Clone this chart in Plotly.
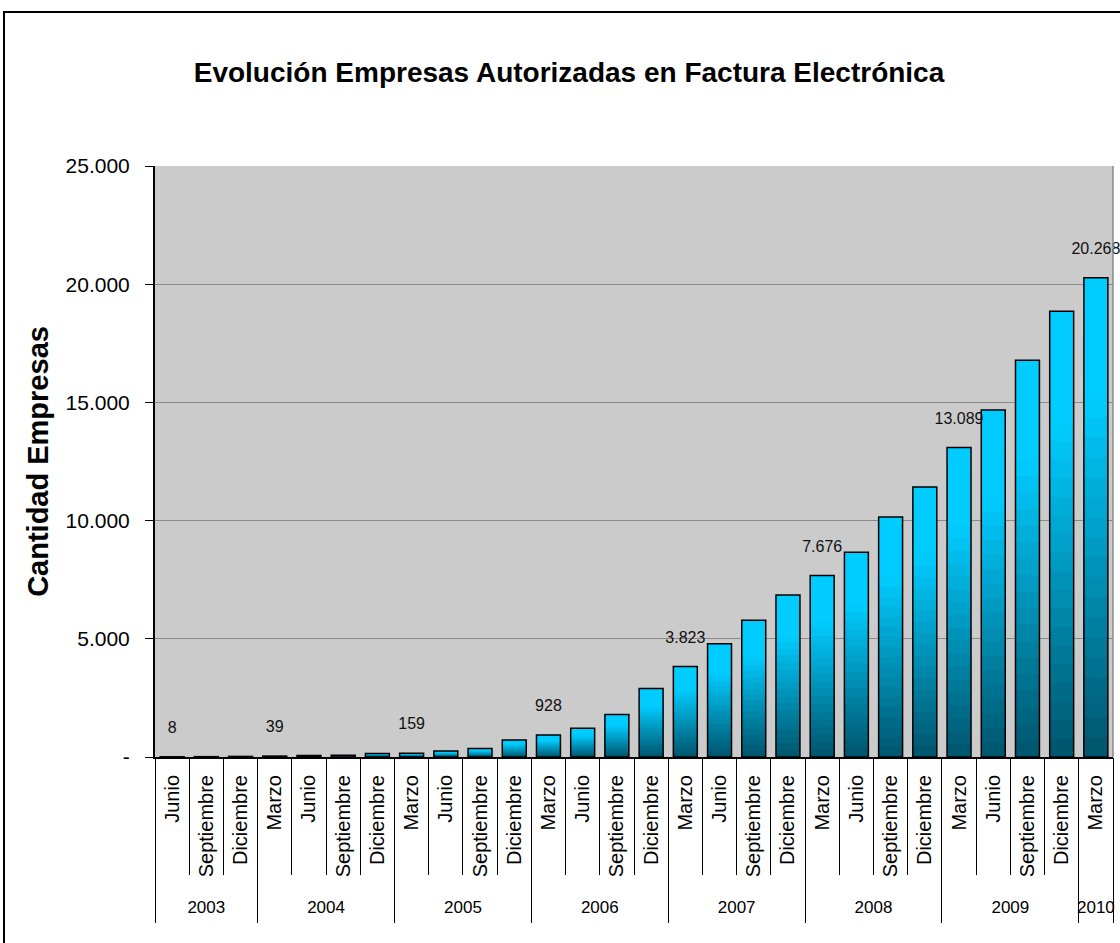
import plotly.graph_objects as go

# ---------------- data ----------------
anios = (["2003"] * 3 + ["2004"] * 4 + ["2005"] * 4 + ["2006"] * 4 +
         ["2007"] * 4 + ["2008"] * 4 + ["2009"] * 4 + ["2010"] * 1)
meses = (["Junio", "Septiembre", "Diciembre"] +
         ["Marzo", "Junio", "Septiembre", "Diciembre"] * 6 +
         ["Marzo"])
empresas = [8, 15, 25,
            39, 65, 75, 150,
            159, 250, 360, 720,
            928, 1220, 1800, 2900,
            3823, 4790, 5780, 6850,
            7676, 8660, 10150, 11420,
            13089, 14680, 16780, 18860,
            20268]
mostrar_etiqueta = [1, 0, 0,
                    1, 0, 0, 0,
                    1, 0, 0, 0,
                    1, 0, 0, 0,
                    1, 0, 0, 0,
                    1, 0, 0, 0,
                    1, 0, 0, 0,
                    1]
y_ticks = [0, 5000, 10000, 15000, 20000, 25000]
y_ticktext = ["-", "5.000", "10.000", "15.000", "20.000", "25.000"]

titulo = "Evolución Empresas Autorizadas en Factura Electrónica"
titulo_y = "Cantidad Empresas"


def fmt(v):
    return f"{v:,}".replace(",", ".")


# category positions (one slot per quarter) and year groups
pos = list(range(len(empresas)))
years_unique = []
for a in anios:
    if a not in years_unique:
        years_unique.append(a)
year_centers = []
year_bounds = []
for a in years_unique:
    idx = [p for p, aa in zip(pos, anios) if aa == a]
    year_centers.append(sum(idx) / len(idx))
    year_bounds.append(idx[0] - 0.5)
year_bounds.append(pos[-1] + 0.5)
month_bounds = [p - 0.5 for p in pos] + [pos[-1] + 0.5]

# ---------------- style ----------------
SANS = "Liberation Sans, Arial, sans-serif"
TOP = (0, 204, 255)
BOTTOM = (0, 84, 108)
N_LAYERS = 24

fig = go.Figure()


def color_at(p):
    t = min(1.0, max(0.0, p / 0.75))
    r = [round(BOTTOM[i] + (TOP[i] - BOTTOM[i]) * t) for i in range(3)]
    return f"rgb({r[0]},{r[1]},{r[2]})"


# gradient: overlay of scaled copies of the same values
for k in range(N_LAYERS):
    f_hi = 1 - k / N_LAYERS
    f_lo = 1 - (k + 1) / N_LAYERS
    fig.add_trace(go.Bar(
        x=pos, y=[v * f_hi for v in empresas],
        marker=dict(color=color_at((f_hi + f_lo) / 2), line=dict(width=0)),
        hoverinfo="skip", showlegend=False,
    ))

# outline
fig.add_trace(go.Bar(
    x=pos, y=empresas,
    marker=dict(color="rgba(0,0,0,0)", line=dict(color="black", width=1.5)),
    showlegend=False,
))

# data labels
fig.add_trace(go.Scatter(
    x=pos, y=empresas, mode="markers+text",
    text=[fmt(v) if m else "" for v, m in zip(empresas, mostrar_etiqueta)],
    textposition="top center",
    textfont=dict(family=SANS, size=16, color="#111111"),
    marker=dict(size=30, color="rgba(0,0,0,0)"),
    cliponaxis=False, showlegend=False, hoverinfo="skip",
))

# invisible trace bound to the year axis
fig.add_trace(go.Scatter(
    x=pos, y=empresas, xaxis="x2", mode="markers",
    marker=dict(size=1, color="rgba(0,0,0,0)"),
    showlegend=False, hoverinfo="skip",
))

L, R, T, B = 155, 7, 166, 186
W, H = 1120, 943
pw, ph = W - L - R, H - T - B
xr = [pos[0] - 0.5, pos[-1] + 0.5]

fig.update_layout(
    width=W, height=H,
    margin=dict(l=L, r=R, t=T, b=B, autoexpand=False),
    barmode="overlay", bargap=0.3,
    paper_bgcolor="white", plot_bgcolor="#cbcbcb",
    title=dict(text=titulo, x=569 / W, xanchor="center", xref="container",
               y=1 - 72 / H, yanchor="middle", yref="container",
               font=dict(family=SANS, size=28, color="black", weight="bold")),
    showlegend=False,
    shapes=[
        dict(type="line", xref="paper", yref="paper", x0=1, x1=1, y0=0, y1=1,
             line=dict(color="#8a8a8a", width=1.5)),
        dict(type="rect", xref="paper", yref="paper",
             x0=(4 - L) / pw, x1=(W + 10 - L) / pw,
             y0=-(B + 20) / ph, y1=(ph + T - 12) / ph,
             line=dict(color="black", width=2), fillcolor="rgba(0,0,0,0)"),
    ],
    xaxis=dict(
        range=xr, tickvals=pos, ticktext=meses, tickangle=-90,
        ticks="", ticklabelstandoff=8,
        minor=dict(tickvals=month_bounds, ticks="outside", ticklen=116,
                   tickcolor="black", tickwidth=1),
        showline=True, linecolor="black", linewidth=2,
        showgrid=False, zeroline=False,
        tickfont=dict(family=SANS, size=20, color="black"),
    ),
    xaxis2=dict(
        overlaying="x", anchor="y", side="bottom",
        range=xr, tickvals=year_centers, ticktext=years_unique,
        ticks="", ticklabelstandoff=138,
        minor=dict(tickvals=year_bounds, ticks="outside", ticklen=165,
                   tickcolor="black", tickwidth=1),
        showline=False, showgrid=False, zeroline=False,
        tickfont=dict(family=SANS, size=17, color="black"),
    ),
    yaxis=dict(
        range=[0, 25000], tickvals=y_ticks, ticktext=y_ticktext,
        showgrid=True, gridcolor="#8a8a8a", gridwidth=1.2,
        showline=True, linecolor="black", linewidth=2,
        ticks="outside", ticklen=8, tickcolor="black", tickwidth=1,
        ticklabelstandoff=11,
        tickfont=dict(family=SANS, size=21, color="black"),
        title=dict(text=titulo_y, standoff=8,
                   font=dict(family=SANS, size=29, color="black", weight="bold")),
        zeroline=False,
    ),
)

fig.write_html("out.html")
